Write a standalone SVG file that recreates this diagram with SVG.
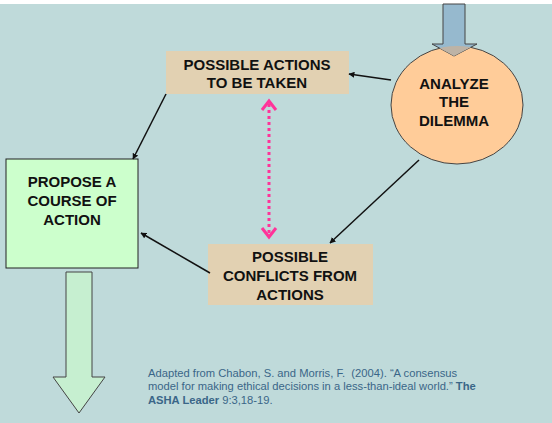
<svg xmlns="http://www.w3.org/2000/svg" width="552" height="423" viewBox="0 0 552 423">
<style>
.lbl{font-family:"Liberation Sans",Arial,sans-serif;font-weight:bold;font-size:15px;fill:#111;text-anchor:middle}
.cite{font-family:"Liberation Sans",Arial,sans-serif;font-size:11.2px;fill:#3A6688;white-space:pre}
.conn{stroke:#111;stroke-width:1.5;fill:none;marker-end:url(#ah)}
</style>
<defs>
<marker id="ah" viewBox="0 0 10 10" refX="9" refY="5" markerWidth="6" markerHeight="6" orient="auto" markerUnits="userSpaceOnUse">
<path d="M0,0 L10,5 L0,10 z" fill="#111"/>
</marker>
<clipPath id="circ"><ellipse cx="457" cy="105" rx="66" ry="59"/></clipPath>
</defs>
<rect x="0" y="0" width="552" height="423" fill="#BFDADA"/>
<rect x="0" y="0" width="552" height="4" fill="#FFFFFF"/>

<g id="analyze">
<ellipse cx="457" cy="105" rx="66" ry="59" fill="#FFCC99" stroke="#444" stroke-width="1"/>
<text class="lbl"><tspan x="454" y="89">ANALYZE</tspan><tspan x="454" y="107">THE</tspan><tspan x="454" y="126">DILEMMA</tspan></text>
</g>

<g id="input-arrow">
<path d="M443,4 L465,4 L465,44 L477,44 L454,56 L432,44 L443,44 Z" fill="#96B9CE" stroke="#444" stroke-width="1"/>
<path d="M443,4 L465,4 L465,44 L477,44 L454,56 L432,44 L443,44 Z" fill="#BDB3A6" clip-path="url(#circ)"/>
</g>

<g id="actions">
<rect x="166" y="51" width="183" height="43" fill="#E2D1B2"/>
<text class="lbl"><tspan x="257" y="70">POSSIBLE ACTIONS</tspan><tspan x="257" y="88">TO BE TAKEN</tspan></text>
</g>

<g id="propose">
<rect x="6" y="159" width="132" height="109" fill="#CCFFCC" stroke="#222" stroke-width="1"/>
<text class="lbl"><tspan x="72" y="187">PROPOSE A</tspan><tspan x="72" y="206">COURSE OF</tspan><tspan x="72" y="225">ACTION</tspan></text>
</g>

<g id="conflicts">
<rect x="208" y="244" width="165" height="61" fill="#E2D1B2"/>
<text class="lbl"><tspan x="290" y="262">POSSIBLE</tspan><tspan x="290" y="281">CONFLICTS FROM</tspan><tspan x="290" y="300">ACTIONS</tspan></text>
</g>

<g id="output-arrow">
<path d="M66,272 L92,272 L92,377 L105,377 L79,413 L53,377 L66,377 Z" fill="#C6EFD0" stroke="#444" stroke-width="1"/>
</g>

<g id="connectors">
<line class="conn" x1="391" y1="80" x2="349" y2="74"/>
<line class="conn" x1="166" y1="94" x2="133" y2="159"/>
<line class="conn" x1="419" y1="160" x2="330" y2="243"/>
<line class="conn" x1="210" y1="273" x2="141" y2="233"/>
<g stroke="#FF3399" stroke-width="3" fill="none">
<line x1="269" y1="104" x2="269" y2="234" stroke-dasharray="3,3"/>
<path d="M262,110 L269,101 L276,110"/>
<path d="M262,228 L269,237 L276,228"/>
</g>
</g>

<text class="cite"><tspan x="148" y="377">Adapted from Chabon, S. and Morris, F.  (2004). “A consensus</tspan><tspan x="148" y="390">model for making ethical decisions in a less-than-ideal world.” <tspan font-weight="bold">The</tspan></tspan><tspan x="148" y="404" font-weight="bold">ASHA Leader <tspan font-weight="normal">9:3,18-19.</tspan></tspan></text>
</svg>
